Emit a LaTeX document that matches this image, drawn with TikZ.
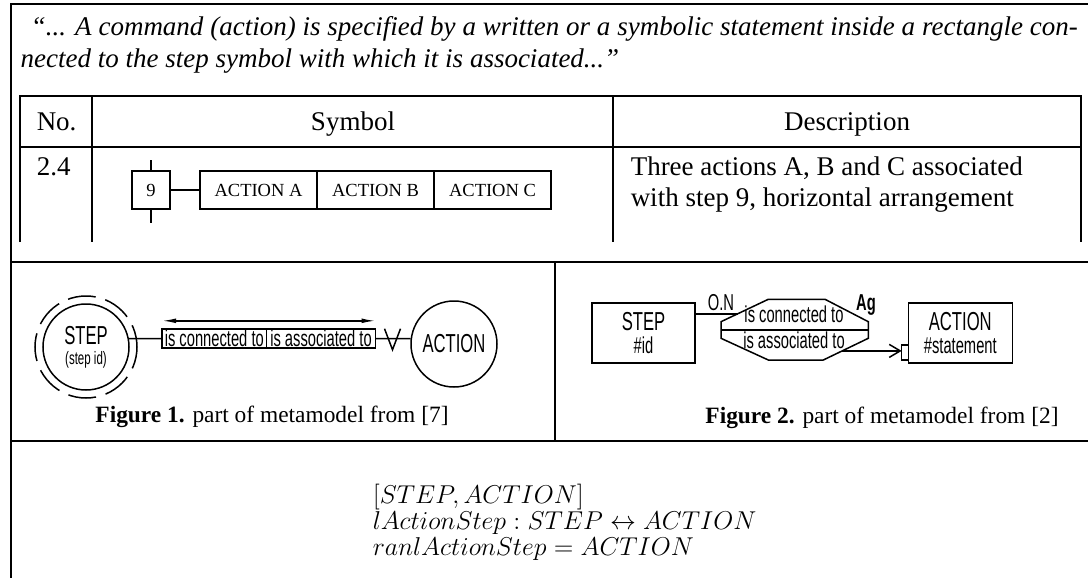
\documentclass[tikz,border=0pt]{standalone}
\usepackage{fontspec}
\usepackage{graphicx}
\setmainfont{Liberation Serif}
\newfontfamily\narrowsf[FakeStretch=0.64]{Liberation Sans}
\usetikzlibrary{arrows.meta, positioning, calc}

\begin{document}
\begin{tikzpicture}[x=0.5pt, y=-0.5pt, line width=0.75pt,
    rule/.style={line width=1pt},
    tabtext/.style={font=\fontsize{13.5}{16}\selectfont, anchor=base west, inner sep=0pt},
    actbox/.style={draw, line width=0.8pt, minimum width=58.5pt, minimum height=19pt, inner sep=0pt, outer sep=0pt, font=\fontsize{9.25}{11}\selectfont},
    sflabel/.style={font=\narrowsf\fontsize{11.5}{12}\selectfont, inner sep=0pt},
    relbox/.style={draw, sflabel, minimum height=9.5pt, outer sep=0pt},
    entity/.style={draw, minimum width=51.5pt, minimum height=30pt, align=center, font=\narrowsf\fontsize{13}{11.2}\selectfont},
    caption/.style={font=\fontsize{11.7}{14}\selectfont, anchor=base, inner sep=0pt},
    zline/.style={font=\fontsize{12.8}{14}\selectfont, anchor=base west, inner sep=0pt}]
\useasboundingbox (0,0) rectangle (1088,578);

\draw[rule] (1092,4) -- (11,4) -- (11,582);
\draw[rule] (11,262) -- (1092,262);
\draw[rule] (11,441) -- (1092,441);
\draw[rule] (555,262) -- (555,441);

\node[tabtext, font=\itshape\fontsize{13.5}{16}\selectfont] (quote1) at (30,35)
  {\makebox[523.5pt][s]{“... A command (action) is specified by a written or a symbolic statement inside a rectangle con-}};
\node[tabtext, font=\itshape\fontsize{13.5}{16}\selectfont] (quote2) at (20,68)
  {nected to the step symbol with which it is associated...”};

\draw[rule] (20,242) -- (20,96) -- (1081,96) -- (1081,242);
\draw[rule] (20,147) -- (1081,147);
\draw[rule] (92,96) -- (92,242);
\draw[rule] (613,96) -- (613,242);

\node[tabtext] (hno) at (36,130) {No.};
\node[tabtext, anchor=base] (hsym) at (353,130) {Symbol};
\node[tabtext, anchor=base] (hdesc) at (847,130) {Description};
\node[tabtext] (rno) at (36,175) {2.4};
\node[tabtext] (rdesc1) at (630,175) {Three actions A, B and C associated};
\node[tabtext] (rdesc2) at (630,206) {with step 9, horizontal arrangement};

\node[actbox, minimum width=19pt] (step9) at (151,190) {9};
\draw (step9.north) -- ++(0,-11);
\draw (step9.south) -- ++(0,14);
\node[actbox] (acta) at (258.5,190) {ACTION A};
\node[actbox, right=0pt of acta] (actb) {ACTION B};
\node[actbox, right=0pt of actb] (actc) {ACTION C};
\draw (step9.east) -- (acta.west);

\node[circle, draw, minimum size=43pt, inner sep=0pt, align=center, font=\narrowsf\fontsize{13}{10}\selectfont] (stepc) at (86,347)
  {STEP\\{\fontsize{9}{10}\selectfont (step id)}};
\draw[dash pattern=on 14pt off 5pt, dash phase=3pt] (stepc.center) circle[radius=51];
\node[circle, draw, minimum size=43pt, inner sep=0pt, font=\narrowsf\fontsize{13}{13}\selectfont] (actioncirc) at (454,344) {ACTION};
\node[relbox, minimum width=52.2pt] (isconn) at (214.3,338.7) {is connected to};
\node[relbox, minimum width=54.5pt, right=0pt of isconn] (isassoc) {is associated to};
\draw (stepc.11) -- (isconn.west);
\draw (isassoc.east) -- (actioncirc.173);
\draw[{Latex[length=7pt,width=2.4pt]}-{Latex[length=7pt,width=2.4pt]}] ([yshift=4.2pt]isconn.north west) -- ([yshift=4.2pt]isassoc.north east);
\draw ([shift={(9,-10)}]isassoc.east) -- ([shift={(17,11)}]isassoc.east) -- ([shift={(25,-10)}]isassoc.east);
\node[caption] (cap1) at (272,422) {\textbf{Figure 1.} part of metamodel from [7]};

\node[entity] (step2) at (643.5,333) {STEP\\{\fontsize{11.5}{11.2}\selectfont\#id}};
\node[entity, minimum width=52pt] (action2) at (960.3,333) {ACTION\\{\fontsize{11.5}{11.2}\selectfont\#statement}};
\coordinate (o1) at (721,321.7);
\coordinate (o2) at (768.3,299.3);
\coordinate (o3) at (825,299.3);
\coordinate (o4) at (868.3,321.7);
\coordinate (o5) at (868.3,338.3);
\coordinate (o6) at (823.3,360);
\coordinate (o7) at (768.3,360);
\coordinate (o8) at (721,338.3);
\draw (o1) -- (o2) -- (o3) -- (o4) -- (o5) -- (o6) -- (o7) -- (o8) -- cycle;
\draw ($(o1)!0.5!(o8)$) -- ($(o4)!0.5!(o5)$);
\node[sflabel, anchor=base] (conn2) at (794,322.7) {is connected to};
\node[sflabel, anchor=base] (assoc2) at (794,348.3) {is associated to};
\coordinate (octin) at ($(o1)!0.35!(o2)$);
\coordinate (octout) at ($(o5)!0.58!(o6)$);
\draw (step2.east |- octin) -- (octin);
\node[sflabel, anchor=base] (onlabel) at (721,310.5) {O.N};
\node[sflabel, anchor=base, font=\narrowsf\bfseries\fontsize{11.5}{12}\selectfont] (aglabel) at (866,310.5) {Ag};
\node[draw, minimum width=3.3pt, minimum height=7.5pt, inner sep=0pt, outer sep=0pt] (port) at (905,352.5) {};
\draw[-{Straight Barb[length=5.5pt,width=6.5pt]}] (octout) -- (port.west |- octout);
\node[caption] (cap2) at (882,423) {\textbf{Figure 2.} part of metamodel from [2]};

\node[zline] (zsig) at (372,503) {\scalebox{1.075}{$[STEP, ACTION]$}};
\node[zline] (zrel) at (372,529) {\scalebox{1.075}{$lActionStep : STEP \leftrightarrow ACTION$}};
\node[zline] (zran) at (372,555) {\scalebox{1.075}{$ranlActionStep = ACTION$}};
\end{tikzpicture}
\end{document}
